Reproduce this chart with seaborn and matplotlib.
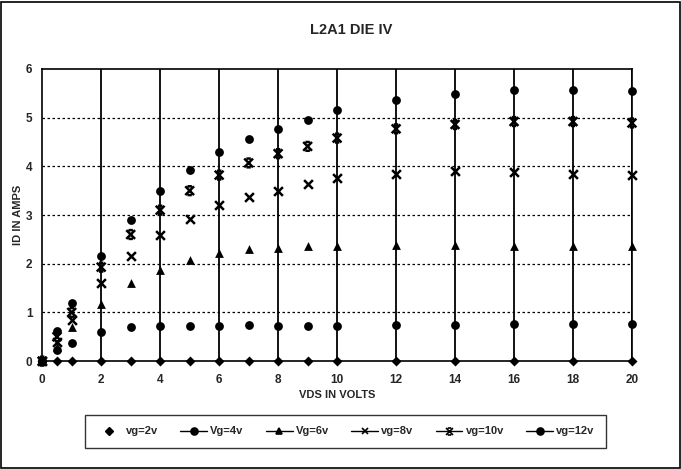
import matplotlib
matplotlib.use("Agg")
import matplotlib.pyplot as plt
import seaborn as sns
import pandas as pd
from matplotlib.lines import Line2D
from matplotlib.patches import Rectangle
from matplotlib.path import Path

# drain voltage steps
vds = [0, 0.5, 1, 2, 3, 4, 5, 6, 7, 8, 9, 10, 12, 14, 16, 18, 20]

# drain current per gate voltage
id_vg2 = [0, 0, 0, 0, 0, 0, 0, 0, 0, 0, 0, 0, 0, 0, 0, 0, 0]
id_vg4 = [0, 0.22, 0.37, 0.6, 0.7, 0.72, 0.72, 0.72, 0.75, 0.73, 0.73, 0.73, 0.74, 0.75, 0.76, 0.77, 0.77]
id_vg6 = [0, 0.3, 0.7, 1.18, 1.6, 1.88, 2.08, 2.22, 2.31, 2.33, 2.36, 2.37, 2.38, 2.38, 2.37, 2.37, 2.37]
id_vg8 = [0, 0.4, 0.85, 1.6, 2.15, 2.6, 2.92, 3.2, 3.38, 3.5, 3.64, 3.76, 3.85, 3.9, 3.88, 3.84, 3.83]
id_vg10 = [0, 0.5, 1.0, 1.93, 2.6, 3.1, 3.5, 3.82, 4.07, 4.26, 4.41, 4.58, 4.77, 4.86, 4.92, 4.92, 4.89]
id_vg12 = [0, 0.62, 1.2, 2.15, 2.9, 3.5, 3.93, 4.3, 4.57, 4.77, 4.96, 5.16, 5.37, 5.49, 5.56, 5.56, 5.55]

labels = ["vg=2v", "Vg=4v", "Vg=6v", "vg=8v", "vg=10v", "vg=12v"]
series = [id_vg2, id_vg4, id_vg6, id_vg8, id_vg10, id_vg12]

# X with short caps top and bottom (Excel star look)
star = Path([(-1, 1), (1, -1), (-1, -1), (1, 1), (-0.5, 1), (0.5, 1), (-0.5, -1), (0.5, -1)],
            [Path.MOVETO, Path.LINETO, Path.MOVETO, Path.LINETO,
             Path.MOVETO, Path.LINETO, Path.MOVETO, Path.LINETO])
markers = ["D", "o", "^", "x", star, "o"]
sizes = [26, 40, 40, 40, 40, 40]

sns.set_style("white")
plt.rcParams["font.family"] = ["Liberation Sans", "DejaVu Sans"]
plt.rcParams["font.weight"] = "bold"

fig = plt.figure(figsize=(6.81, 4.69), dpi=100)
ax = fig.add_axes([0.062, 0.23, 0.866, 0.623])

for lab, ys, m, s in zip(labels, series, markers, sizes):
    df = pd.DataFrame({"VDS": vds, "ID": ys})
    if m == "x":
        sns.scatterplot(data=df, x="VDS", y="ID", marker=m, s=s, color="black",
                        linewidth=1.8, ax=ax, zorder=3, clip_on=False)
    elif m is star:
        sns.scatterplot(data=df, x="VDS", y="ID", marker=m, s=s, color="black",
                        facecolors="none", edgecolor="black",
                        linewidth=1.8, ax=ax, zorder=3, clip_on=False)
    else:
        sns.scatterplot(data=df, x="VDS", y="ID", marker=m, s=s, color="black",
                        edgecolor="black", linewidth=0, ax=ax, zorder=3, clip_on=False)

ax.set_xlim(0, 20)
ax.set_ylim(0, 6)
ax.set_xticks(range(0, 21, 2))
ax.set_yticks(range(0, 7))
ax.tick_params(axis="both", labelsize=8.5, length=0)
ax.tick_params(axis="x", pad=9)
ax.tick_params(axis="y", pad=7)
for t in ax.get_xticklabels() + ax.get_yticklabels():
    t.set_fontweight("bold")

# solid vertical grid, dotted horizontal grid
for xv in range(2, 21, 2):
    ax.axvline(xv, color="black", lw=1.3, zorder=1)
for yv in range(1, 6):
    ax.axhline(yv, color="black", lw=0.9, ls=(0, (2, 2)), zorder=1)

for sp in ax.spines.values():
    sp.set_color("black")
    sp.set_linewidth(1.2)

ax.set_xlabel("VDS IN VOLTS", fontsize=8, fontweight="bold", labelpad=3)
ax.set_ylabel("ID IN AMPS", fontsize=8, fontweight="bold", labelpad=2)
fig.text(0.515, 0.935, "L2A1 DIE IV", ha="center", va="center",
         fontsize=10.5, fontweight="bold")

handles = [Line2D([], [], color="black", marker="D", ls="none", markersize=4.5)]
for m in markers[1:]:
    handles.append(Line2D([], [], color="black", marker=m, lw=1, markersize=5,
                          markeredgewidth=1.2, markerfacecolor="black"))
leg = fig.legend(handles, labels, loc="center", bbox_to_anchor=(0.507, 0.08),
                 ncol=6, fontsize=8, frameon=True, fancybox=False,
                 edgecolor="black", handlelength=2.4, columnspacing=2.0,
                 borderpad=1.0, handletextpad=0.3)
leg.get_frame().set_linewidth(1.0)

# chart area border
fig.patches.append(Rectangle((0.002, 0.002), 0.996, 0.994, transform=fig.transFigure,
                             fill=False, edgecolor="black", lw=1.2))

fig.savefig("out.png", dpi=100)
